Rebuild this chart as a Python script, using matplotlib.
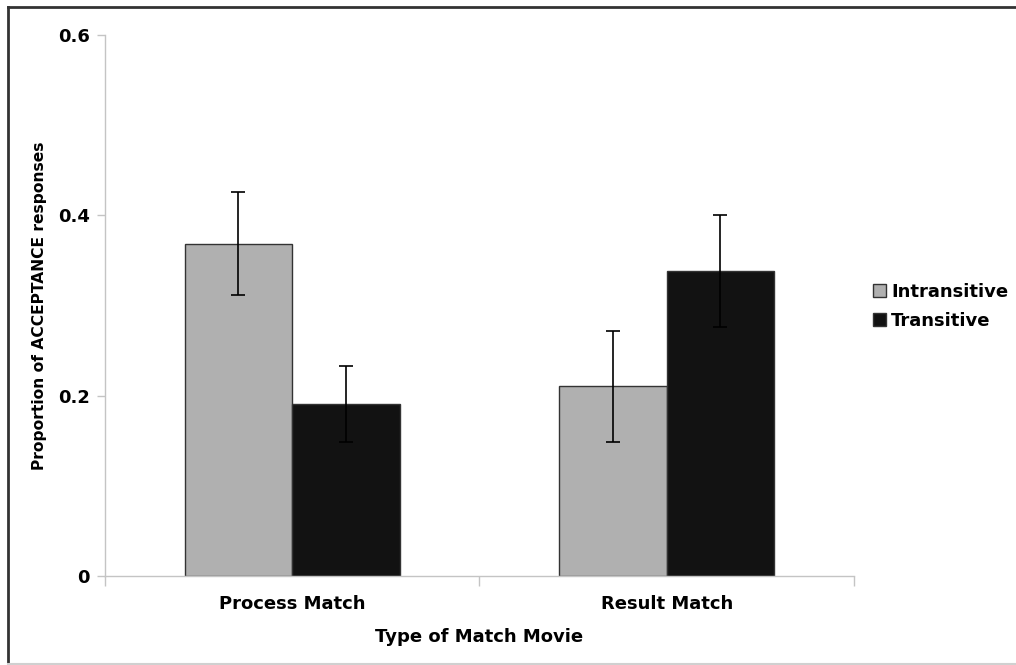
# Grouped bar chart of acceptance responses by match type and verb type.
# ---------------------------------------------------------------------------------------------- #
import numpy as np
import matplotlib.pyplot as plt
from matplotlib.lines import Line2D

# ---------------------------------------------------------------------------------------------- #
# We define the data.
# ---------------------------------------------------------------------------------------------- #
Categories = ['Process Match', 'Result Match']
SeriesNames = ['Intransitive', 'Transitive']
IntransitiveVals = [0.368, 0.210]
IntransitiveErr = [0.057, 0.061]
TransitiveVals = [0.191, 0.338]
TransitiveErr = [0.042, 0.062]
YTicks = [0, 0.2, 0.4, 0.6]
YTickLabels = ['0', '0.2', '0.4', '0.6']

# ---------------------------------------------------------------------------------------------- #
# We define plot properties.
# ---------------------------------------------------------------------------------------------- #
FontSize = 13
FontType = 'DejaVu Sans'
BarColors = ['#b0b0b0', '#121212']
AxisColor = '#c4c4c4'
BarWidth = 0.287

plt.rcParams['font.family'] = FontType
plt.rcParams['font.weight'] = 'bold'

Fig = plt.figure(figsize=(10.16, 6.65), dpi=100)
Ax = Fig.add_axes([0.1033, 0.1338, 0.7372, 0.8143])

# We plot the bars with their error bars.
X = np.arange(len(Categories))
for i, (Vals, Errs) in enumerate([(IntransitiveVals, IntransitiveErr),
                                  (TransitiveVals, TransitiveErr)]):
    Pos = X + (i - 0.5) * BarWidth
    Ax.bar(Pos, Vals, width=BarWidth, color=BarColors[i], edgecolor='#333333',
           linewidth=1.0, label=SeriesNames[i], zorder=2)
    Ax.errorbar(Pos, Vals, yerr=Errs, fmt='none', ecolor='black', elinewidth=1.2,
                capsize=5, capthick=1.2, zorder=3)

# We configure the axes.
Ax.set_xlim(-0.5, 1.5)
Ax.set_ylim(0, 0.6)
for Side in ['top', 'right']:
    Ax.spines[Side].set_visible(False)
for Side in ['left', 'bottom']:
    Ax.spines[Side].set_color(AxisColor)
    Ax.spines[Side].set_linewidth(1.0)

Ax.set_yticks(YTicks)
Ax.set_yticklabels(YTickLabels, fontsize=FontSize, fontweight='bold')
Ax.tick_params(axis='y', length=6, width=1, color=AxisColor, pad=5)

Ax.set_xticks([-0.5, 0.5, 1.5])
Ax.set_xticklabels([])
Ax.tick_params(axis='x', which='major', length=7, width=1, color=AxisColor)
Ax.set_xticks(X, minor=True)
Ax.set_xticklabels(Categories, minor=True, fontsize=FontSize, fontweight='bold')
Ax.tick_params(axis='x', which='minor', length=0, pad=14)

Ax.set_ylabel('Proportion of ACCEPTANCE responses', fontsize=11.2, fontweight='bold')
Ax.yaxis.set_label_coords(-0.078, 0.5)
Ax.set_xlabel('Type of Match Movie', fontsize=FontSize, fontweight='bold')
Ax.xaxis.set_label_coords(0.5, -0.096)

# We add the legend to the right of the axes.
Fig.legend(loc='center left', bbox_to_anchor=(0.852, 0.539), frameon=False,
           prop={'size': FontSize, 'weight': 'bold'}, handlelength=0.75,
           handleheight=0.75, handletextpad=0.25, labelspacing=0.62, borderaxespad=0)

# We draw the outer frame of the figure.
Fig.add_artist(Line2D([8/1016, 1], [1 - 7/665, 1 - 7/665], color='#333333', linewidth=2))
Fig.add_artist(Line2D([8/1016, 8/1016], [1 - 7/665, 1 - 664/665], color='#333333', linewidth=2))
Fig.add_artist(Line2D([8/1016, 1], [1 - 664/665, 1 - 664/665], color='#d0d0d0', linewidth=1.5))

Fig.savefig('out.png', dpi=100)
